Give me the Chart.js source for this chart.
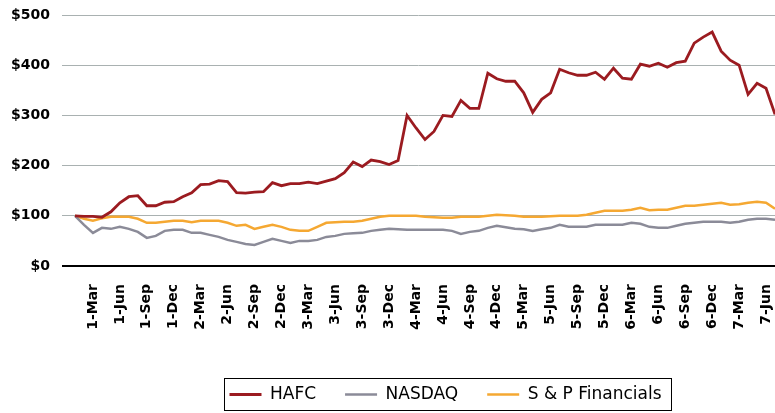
<!DOCTYPE html>
<html>
<head>
<meta charset="utf-8">
<script src="https://cdn.jsdelivr.net/npm/chart.js@4"></script>
<style>
  html, body { margin: 0; padding: 0; background: #fff; }
  #wrap { width: 775px; height: 413px; }
</style>
</head>
<body>
<div id="wrap"><canvas id="chart"></canvas></div>
<script>
// monthly points, Jan 2001 .. Jul 2007
const months = [
    '1-Jan','1-Feb','1-Mar','1-Apr','1-May','1-Jun','1-Jul','1-Aug','1-Sep','1-Oct','1-Nov','1-Dec',
    '2-Jan','2-Feb','2-Mar','2-Apr','2-May','2-Jun','2-Jul','2-Aug','2-Sep','2-Oct','2-Nov','2-Dec',
    '3-Jan','3-Feb','3-Mar','3-Apr','3-May','3-Jun','3-Jul','3-Aug','3-Sep','3-Oct','3-Nov','3-Dec',
    '4-Jan','4-Feb','4-Mar','4-Apr','4-May','4-Jun','4-Jul','4-Aug','4-Sep','4-Oct','4-Nov','4-Dec',
    '5-Jan','5-Feb','5-Mar','5-Apr','5-May','5-Jun','5-Jul','5-Aug','5-Sep','5-Oct','5-Nov','5-Dec',
    '6-Jan','6-Feb','6-Mar','6-Apr','6-May','6-Jun','6-Jul','6-Aug','6-Sep','6-Oct','6-Nov','6-Dec',
    '7-Jan','7-Feb','7-Mar','7-Apr','7-May','7-Jun','7-Jul'
];

const tickLabels = [
    '1-Mar','1-Jun','1-Sep','1-Dec','2-Mar','2-Jun','2-Sep','2-Dec',
    '3-Mar','3-Jun','3-Sep','3-Dec','4-Mar','4-Jun','4-Sep','4-Dec',
    '5-Mar','5-Jun','5-Sep','5-Dec','6-Mar','6-Jun','6-Sep','6-Dec',
    '7-Mar','7-Jun'
];

const hafc = [
    100, 99, 99, 97, 108, 126, 138, 140, 120, 120, 127, 128,
    138, 146, 162, 163, 170, 168, 146, 145, 147, 148, 166, 160,
    164, 164, 167, 164, 169, 174, 186, 207, 198, 211, 208, 202,
    210, 300, 275, 252, 268, 300, 298, 330, 314, 314, 384, 373,
    368, 368, 345, 306, 332, 345, 392, 385, 380, 380, 386, 372,
    394, 374, 372, 402, 398, 404, 396, 405, 408, 444, 456, 466,
    428, 410, 400, 342, 364, 354, 302
];

const nasdaq = [
    100, 82, 66, 76, 74, 78, 74, 68, 56, 60, 70, 72,
    72, 66, 66, 62, 58, 52, 48, 44, 42, 48, 54, 50,
    46, 50, 50, 52, 58, 60, 64, 65, 66, 70, 72, 74,
    73, 72, 72, 72, 72, 72, 70, 64, 68, 70, 76, 80,
    77, 74, 73, 70, 73, 76, 82, 78, 78, 78, 82, 82,
    82, 82, 86, 84, 78, 76, 76, 80, 84, 86, 88, 88,
    88, 86, 88, 92, 94, 94, 92
];

const spFinancials = [
    100, 94, 90, 95, 98, 98, 98, 94, 86, 86, 88, 90,
    90, 87, 90, 90, 90, 86, 80, 82, 74, 78, 82, 78,
    72, 70, 70, 78, 86, 87, 88, 88, 90, 94, 98, 100,
    100, 100, 100, 98, 97, 96, 96, 98, 98, 98, 100, 102,
    101, 100, 98, 98, 98, 99, 100, 100, 100, 102, 106, 110,
    110, 110, 112, 116, 111, 112, 112, 116, 120, 120, 122, 124,
    126, 122, 123, 126, 128, 126, 114
];

const toPoints = arr => arr.map((v, i) => ({ x: i, y: v }));

// legend sits right of centre in the original, and has a box round it
const legendBox = {
    id: 'legendBox',
    afterLayout(chart) {
        chart.legend.left += 58;
        chart.legend.right += 58;
    },
    afterDraw(chart) {
        const boxes = chart.legend.legendHitBoxes;
        if (!boxes || !boxes.length) return;
        let left = Math.min(...boxes.map(b => b.left));
        let right = Math.max(...boxes.map(b => b.left + b.width));
        let top = Math.min(...boxes.map(b => b.top));
        let bottom = Math.max(...boxes.map(b => b.top + b.height));
        const ctx = chart.ctx;
        ctx.save();
        ctx.strokeStyle = '#000';
        ctx.lineWidth = 1;
        ctx.strokeRect(Math.round(left - 5) + 0.5, Math.round(top - 8) + 0.5,
            Math.round(right - left + 15), Math.round(bottom - top + 15));
        ctx.restore();
    }
};

const ctx = document.getElementById('chart').getContext('2d');
const chart = new Chart(ctx, {
    type: 'line',
    data: {
        datasets: [{
            label: 'HAFC',
            data: toPoints(hafc),
            borderColor: '#9b1b20',
            backgroundColor: '#9b1b20',
            borderWidth: 2.8,
            pointRadius: 0,
            tension: 0
        }, {
            label: 'NASDAQ',
            data: toPoints(nasdaq),
            borderColor: '#8b8b98',
            backgroundColor: '#8b8b98',
            borderWidth: 2.5,
            pointRadius: 0,
            tension: 0
        }, {
            label: 'S & P Financials',
            data: toPoints(spFinancials),
            borderColor: '#f5a832',
            backgroundColor: '#f5a832',
            borderWidth: 2.5,
            pointRadius: 0,
            tension: 0
        }]
    },
    options: {
        responsive: true,
        maintainAspectRatio: false,
        animation: false,
        layout: { padding: { top: 15, right: 0, bottom: 0, left: 0 } },
        scales: {
            x: {
                type: 'linear',
                min: -1.45,
                max: 78,
                grid: { display: false },
                border: { display: false },
                afterBuildTicks: scale => {
                    scale.ticks = tickLabels.map(l => ({ value: months.indexOf(l) }));
                },
                afterFit: scale => {
                    scale.height = 91;
                    scale.paddingLeft = 0;
                    scale.paddingRight = 0;
                },
                ticks: {
                    autoSkip: false,
                    maxRotation: 90,
                    minRotation: 90,
                    padding: 10,
                    color: '#000',
                    font: { family: 'DejaVu Sans', size: 14, weight: 'bold' },
                    callback: value => months[value]
                }
            },
            y: {
                min: 0,
                max: 500,
                border: { display: false },
                afterFit: scale => {
                    scale.width = 62;
                    scale.paddingTop = 0;
                    scale.paddingBottom = 0;
                },
                grid: {
                    drawTicks: false,
                    color: c => c.tick.value === 0 ? '#000' : '#a9b1b1',
                    lineWidth: c => c.tick.value === 0 ? 2 : 1
                },
                ticks: {
                    stepSize: 100,
                    padding: 12,
                    color: '#000',
                    font: { family: 'DejaVu Sans', size: 14, weight: 'bold' },
                    callback: value => '$' + value
                }
            }
        },
        plugins: {
            tooltip: { enabled: false },
            legend: {
                display: true,
                position: 'bottom',
                labels: {
                    usePointStyle: true,
                    pointStyle: 'line',
                    pointStyleWidth: 32,
                    padding: 29,
                    color: '#000',
                    font: { family: 'DejaVu Sans', size: 17 }
                }
            }
        }
    },
    plugins: [legendBox]
});
</script>
</body>
</html>
